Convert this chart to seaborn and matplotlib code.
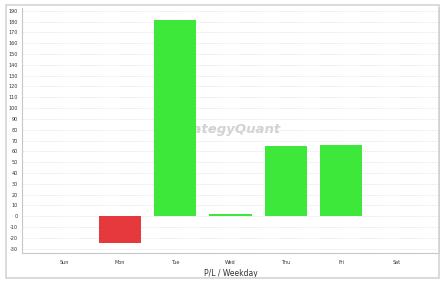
import matplotlib
matplotlib.use("Agg")
import matplotlib.pyplot as plt
import seaborn as sns
import pandas as pd
from matplotlib.patches import Rectangle

days = ["Sun", "Mon", "Tue", "Wed", "Thu", "Fri", "Sat"]
pl_values = [0, -24.6, 181, 2, 64.7, 65.5, 0]
y_ticks = list(range(-30, 200, 10))

df = pd.DataFrame({"day": days, "pl": pl_values})
df["sign"] = ["neg" if v < 0 else "pos" for v in df["pl"]]

sns.set_theme(style="white")
plt.rcParams["font.family"] = ["DejaVu Sans"]

fig = plt.figure(figsize=(4.4, 2.81), dpi=100)
fig.patch.set_facecolor("white")
# outer frame
fig.add_artist(Rectangle((6/440, 3/281), 433/440, 273/281, transform=fig.transFigure,
                         fill=False, edgecolor="#d4d4d4", linewidth=1.2))

ax = fig.add_axes([22/440, 28/281, 417/440, 245/281])
ax.set_facecolor("white")

# watermark behind bars
ax.text(0.622, 0.505, "StrategyQuant", transform=ax.transAxes, ha="right", va="center",
        fontsize=9.5, fontstyle="italic", fontweight="bold", color="#d2d2d2", zorder=0)

sns.barplot(data=df, x="day", y="pl", hue="sign", order=days,
            palette={"pos": "#3de83a", "neg": "#e6393d"}, width=0.76,
            dodge=False, legend=False, ax=ax, zorder=3, saturation=1, linewidth=0)

ax.set_xlim(-0.76, 6.76)
ax.set_ylim(-34, 192.5)
ax.set_yticks(y_ticks)
ax.set_yticklabels([str(t) for t in y_ticks])
ax.yaxis.grid(True, linestyle=(0, (1.5, 1.5)), color="#e2e2e2", linewidth=0.6, zorder=0)
ax.xaxis.grid(False)
ax.set_axisbelow(True)

for side in ["left", "bottom", "right"]:
    ax.spines[side].set_color("#c8c8c8")
    ax.spines[side].set_linewidth(0.8)
ax.spines["top"].set_visible(False)

ax.tick_params(axis="both", labelsize=3.5, colors="#333333", length=2, width=0.5, pad=3)
ax.tick_params(axis="x", color="#c8c8c8")
ax.tick_params(axis="y", length=0)
ax.set_xlabel("P/L / Weekday", fontsize=5.5, color="#333333", labelpad=3)
ax.set_ylabel("")

fig.savefig("out.png", dpi=100, facecolor="white")
